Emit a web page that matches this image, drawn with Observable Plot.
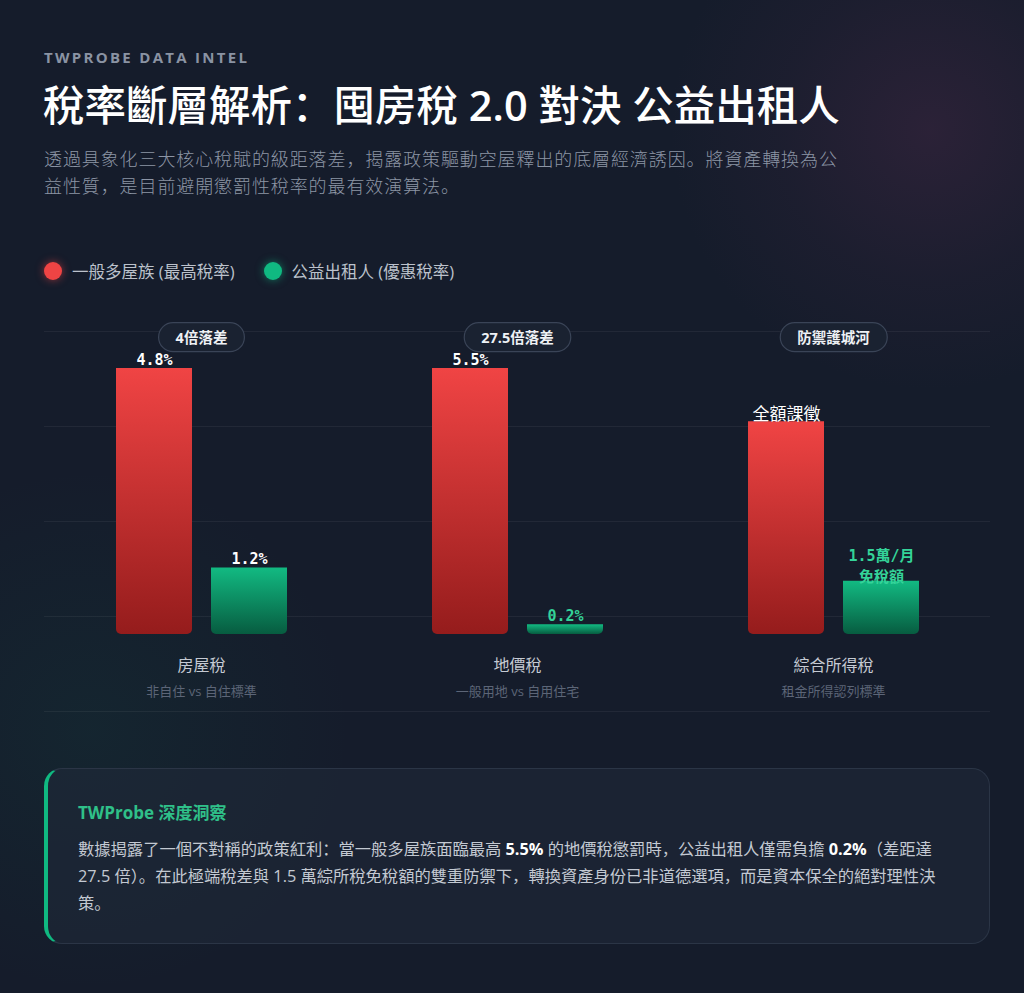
<!DOCTYPE html>
<html>
<head>
<meta charset="utf-8">
<script src="https://cdn.jsdelivr.net/npm/d3@7"></script>
<script src="https://cdn.jsdelivr.net/npm/@observablehq/plot@0.6"></script>
<style>
  html, body { margin: 0; padding: 0; }
  body {
    width: 1024px; height: 993px; overflow: hidden; position: relative;
    background:
      radial-gradient(circle at 930px 130px, rgba(70,40,70,0.45) 0, rgba(70,40,70,0.15) 150px, transparent 260px),
      radial-gradient(circle at 90px 730px, rgba(16,120,90,0.10) 0, transparent 260px),
      #151c2b;
    font-family: "Open Sans", "Noto Sans CJK SC", sans-serif;
    color: #fff;
  }
  .abs { position: absolute; }
  #kicker { left: 44px; top: 48px; font-size: 15px; line-height: 18px; font-weight: 700; letter-spacing: 2.3px; color: #8a93a3; }
  #title { left: 43px; top: 79px; font-size: 41.5px; line-height: 52px; font-weight: 500; color: #ffffff; margin: 0; white-space: nowrap;
           font-family: "Open Sans", "Noto Sans CJK SC", sans-serif; }
  #title .num { font-weight: 600; }
  #subtitle { left: 44px; top: 146px; width: 812px; font-size: 18px; line-height: 27px; letter-spacing: 0.9px; font-weight: 300; color: #8c95a5; margin: 0; }
  #legend { left: 44px; top: 259px; height: 24px; display: flex; align-items: center; font-size: 16.5px; color: #bcc2cc; }
  .lg-item { display: flex; align-items: center; margin-right: 29px; }
  .lg-dot { width: 18px; height: 18px; border-radius: 50%; margin-right: 10px; }
  #grid { left: 44px; top: 331px; width: 946px; height: 381px;
          background: repeating-linear-gradient(to bottom, rgba(255,255,255,0.055) 0, rgba(255,255,255,0.055) 1px, transparent 1px, transparent 95px); }
  #chart { left: 0; top: 300px; }
  #insight { left: 44px; top: 768px; width: 946px; height: 176px; box-sizing: border-box; padding: 30px 36px 0 30px;
             border: 1px solid #2b3546; border-left: 4px solid #10b981; border-radius: 18px;
             background: rgba(32,41,58,0.55); }
  #insight h3 { margin: 0 0 9px 0; font-size: 17px; line-height: 28px; font-weight: 700; color: #2fc089; }
  #insight p { margin: 0; font-size: 16.3px; line-height: 27px; color: #c3c9d2; }
  #insight b { color: #ffffff; }
</style>
</head>
<body>
<div class="abs" id="kicker">TWPROBE DATA INTEL</div>
<h1 class="abs" id="title">稅率斷層解析：囤房稅 <span class="num">2.0</span> 對決 公益出租人</h1>
<p class="abs" id="subtitle">透過具象化三大核心稅賦的級距落差，揭露政策驅動空屋釋出的底層經濟誘因。將資產轉換為公益性質，是目前避開懲罰性稅率的最有效演算法。</p>
<div class="abs" id="legend"></div>
<div class="abs" id="grid"></div>
<div class="abs" id="chart"></div>
<div class="abs" id="insight">
  <h3>TWProbe 深度洞察</h3>
  <p>數據揭露了一個不對稱的政策紅利：當一般多屋族面臨最高 <b>5.5%</b> 的地價稅懲罰時，公益出租人僅需負擔 <b>0.2%</b>（差距達 27.5 倍）。在此極端稅差與 1.5 萬綜所稅免稅額的雙重防禦下，轉換資產身份已非道德選項，而是資本保全的絕對理性決策。</p>
</div>

<script>
// ---- data ----
const categories = ["房屋稅", "地價稅", "綜合所得稅"];
const categoryNotes = ["非自住 vs 自住標準", "一般用地 vs 自用住宅", "租金所得認列標準"];
const gapBadges = ["4倍落差", "27.5倍落差", "防禦護城河"];
const seriesNames = ["一般多屋族 (最高稅率)", "公益出租人 (優惠稅率)"];
const seriesKeys = ["high", "low"];
// rates in %, null when not a rate
const highRates = [4.8, 5.5, null];
const lowRates = [1.2, 0.2, null];
// bar labels
const highLabels = ["4.8%", "5.5%", "全額課徵"];
const lowLabels = ["1.2%", "0.2%", "1.5萬/月\n免稅額"];
// relative bar height (index, max of group = 100) for the non-rate group
const incomeIndexHigh = 80;
const incomeIndexLow = 20;

// ---- styles ----
const colors = { high: "#ef4444", low: "#10b981" };
const accentLabelCats = new Set(["地價稅", "綜合所得稅"]);

// ---- build table ----
const rows = [];
categories.forEach((cat, i) => {
  const groupMax = Math.max(highRates[i] ?? 0, lowRates[i] ?? 0);
  const hHigh = highRates[i] != null ? highRates[i] / groupMax * 100 : incomeIndexHigh;
  const hLow = lowRates[i] != null ? lowRates[i] / groupMax * 100 : incomeIndexLow;
  rows.push({ cat, series: "high", h: hHigh, label: highLabels[i], numeric: highRates[i] != null });
  rows.push({ cat, series: "low", h: hLow, label: lowLabels[i], numeric: lowRates[i] != null });
});
const catRows = categories.map((cat, i) => ({ cat, note: categoryNotes[i], badge: gapBadges[i] }));

// legend
const legend = document.getElementById("legend");
seriesKeys.forEach((k, i) => {
  const it = document.createElement("div");
  it.className = "lg-item";
  const dot = document.createElement("span");
  dot.className = "lg-dot";
  dot.style.background = colors[k];
  dot.style.boxShadow = `0 0 8px ${colors[k]}99`;
  it.appendChild(dot);
  it.appendChild(document.createTextNode(seriesNames[i]));
  legend.appendChild(it);
});

const mono = "'DejaVu Sans Mono', 'Noto Sans CJK SC', monospace";
const sans = "'Open Sans', 'Noto Sans CJK SC', sans-serif";

const plot = Plot.plot({
  width: 1024,
  height: 420,
  marginLeft: 43,
  marginRight: 33,
  marginTop: 68,
  marginBottom: 86,
  style: { background: "transparent", overflow: "visible" },
  fx: { domain: categories, padding: 0, axis: null },
  x: { domain: seriesKeys, paddingInner: 0.2, paddingOuter: 0.763, axis: null },
  y: { domain: [0, 100], axis: null },
  marks: [
    Plot.barY(rows.filter(d => d.series === "high"), { fx: "cat", x: "series", y: "h", fill: "url(#gradHigh)", ry2: 5 }),
    Plot.barY(rows.filter(d => d.series === "low"), { fx: "cat", x: "series", y: "h", fill: "url(#gradLow)", ry2: 5 }),
    // numeric value labels
    Plot.text(rows.filter(d => d.numeric), {
      fx: "cat", x: "series", y: "h", text: "label", lineAnchor: "bottom", dy: -4,
      fontFamily: mono, fontWeight: 700, fontSize: 15,
      fill: d => (d.series === "low" && accentLabelCats.has(d.cat)) ? "#34d399" : "#ffffff"
    }),
    // text labels (non-rate group)
    Plot.text(rows.filter(d => !d.numeric && d.series === "high"), {
      fx: "cat", x: "series", y: "h", text: "label", lineAnchor: "bottom", dy: -2,
      fontFamily: sans, fontWeight: 400, fontSize: 17, fill: "#ffffff"
    }),
    Plot.text(rows.filter(d => !d.numeric && d.series === "low"), {
      fx: "cat", x: "series", y: "h", text: "label", lineAnchor: "bottom", dy: 1, lineHeight: 1.4,
      fontFamily: mono, fontWeight: 700, fontSize: 15, fill: "#34d399"
    }),
    // badges
    Plot.text(catRows, {
      fx: "cat", text: "badge", frameAnchor: "top", lineAnchor: "middle", dy: -30.5,
      fontFamily: sans, fontWeight: 700, fontSize: 14.5, fill: "#eef1f5", className: "badge-text"
    }),
    // category labels
    Plot.text(catRows, {
      fx: "cat", text: "cat", frameAnchor: "bottom", lineAnchor: "middle", dy: 31,
      fontFamily: sans, fontSize: 16, fill: "#c5cad3"
    }),
    Plot.text(catRows, {
      fx: "cat", text: "note", frameAnchor: "bottom", lineAnchor: "middle", dy: 57,
      fontFamily: sans, fontSize: 13, fill: "#5c6577"
    })
  ]
});

const chart = document.getElementById("chart");
chart.appendChild(plot);

// gradients
const NS = "http://www.w3.org/2000/svg";
const defs = document.createElementNS(NS, "defs");
defs.innerHTML = `
  <linearGradient id="gradHigh" x1="0" y1="0" x2="0" y2="1">
    <stop offset="0" stop-color="#f04444"/>
    <stop offset="1" stop-color="#951c1c"/>
  </linearGradient>
  <linearGradient id="gradLow" x1="0" y1="0" x2="0" y2="1">
    <stop offset="0" stop-color="#12ba82"/>
    <stop offset="1" stop-color="#075c40"/>
  </linearGradient>`;
plot.insertBefore(defs, plot.firstChild);

// badge pills behind badge texts
plot.querySelectorAll("g.badge-text text, .badge-text text").forEach(t => {
  const bb = t.getBBox();
  const rect = document.createElementNS(NS, "rect");
  const padX = 17, h = 29;
  const cy = bb.y + bb.height / 2;
  rect.setAttribute("x", bb.x - padX);
  rect.setAttribute("y", cy - h / 2);
  rect.setAttribute("width", bb.width + padX * 2);
  rect.setAttribute("height", h);
  rect.setAttribute("rx", h / 2);
  rect.setAttribute("fill", "#1a2231");
  rect.setAttribute("stroke", "#3a4457");
  rect.setAttribute("stroke-width", "1.2");
  if (t.getAttribute("transform")) rect.setAttribute("transform", t.getAttribute("transform"));
  t.parentNode.insertBefore(rect, t);
});
</script>
</body>
</html>
